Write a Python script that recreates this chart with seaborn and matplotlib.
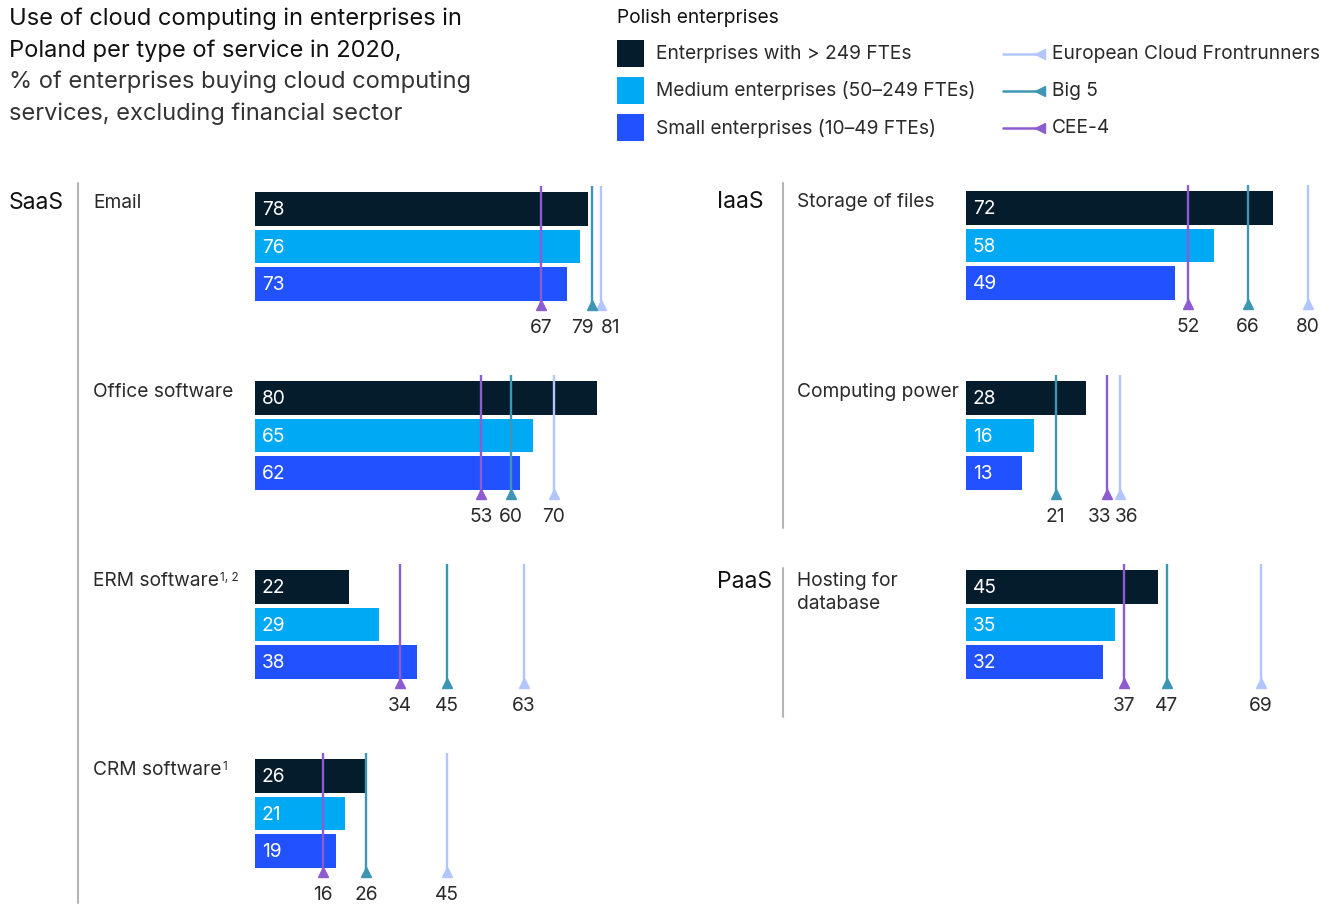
import matplotlib
matplotlib.use("Agg")
import matplotlib.pyplot as plt
import pandas as pd
import seaborn as sns
from matplotlib.patches import Rectangle
from matplotlib.lines import Line2D

# ---- data -------------------------------------------------------------
services = ["Email", "Office software", "ERM software", "CRM software",
            "Storage of files", "Computing power", "Hosting for\ndatabase"]
service_notes = ["", "", "1, 2", "1", "", "", ""]
service_types = ["SaaS", "SaaS", "SaaS", "SaaS", "IaaS", "IaaS", "PaaS"]

size_groups = ["Enterprises with > 249 FTEs",
               "Medium enterprises (50\u2013249 FTEs)",
               "Small enterprises (10\u201349 FTEs)"]
large = [78, 80, 22, 26, 72, 28, 45]
medium = [76, 65, 29, 21, 58, 16, 35]
small = [73, 62, 38, 19, 49, 13, 32]

benchmarks = ["European Cloud Frontrunners", "Big 5", "CEE-4"]
frontrunners = [81, 70, 63, 45, 80, 36, 69]
big5 = [79, 60, 45, 26, 66, 21, 47]
cee4 = [67, 53, 34, 16, 52, 33, 37]

title_lines = ["Use of cloud computing in enterprises in",
               "Poland per type of service in 2020,",
               "% of enterprises buying cloud computing",
               "services, excluding financial sector"]
legend_title = "Polish enterprises"

# ---- style ------------------------------------------------------------
bar_colors = ["#051C2C", "#00A9F4", "#2251FF"]
bench_colors = ["#B3C5FF", "#3C96B4", "#8C5CD0"]
TEXT = "#2A2A2A"
GRID = "#B5B5B5"
FONT = "Inter"
BODY = 13.8

sns.set_theme(style="white")
plt.rcParams["font.family"] = [FONT, "DejaVu Sans"]

W, H = 1340, 905
fig = plt.figure(figsize=(W / 100, H / 100), dpi=100)
bg = fig.add_axes([0, 0, 1, 1])
bg.set_xlim(0, W)
bg.set_ylim(H, 0)
bg.axis("off")


def px_axes(left, top, width, height):
    return fig.add_axes([left / W, 1 - (top + height) / H, width / W, height / H])


# ---- title & legend ---------------------------------------------------
for k, line in enumerate(title_lines):
    bg.text(9, 25 + 31.7 * k, line, fontsize=17,
            color="#111111" if k < 2 else "#333333", va="baseline")

bg.text(617, 23, legend_title, fontsize=13.8, color="#111111", va="baseline")
for k, (name, c) in enumerate(zip(size_groups, bar_colors)):
    yc = 54 + 37 * k
    bg.add_patch(Rectangle((617, yc - 13.5), 27, 27, color=c, lw=0))
    bg.text(656, yc, name, fontsize=BODY, color=TEXT, va="center")
for k, (name, c) in enumerate(zip(benchmarks, bench_colors)):
    yc = 54 + 37 * k
    bg.add_line(Line2D([1003, 1043], [yc, yc], color=c, lw=1.8))
    bg.plot([1040], [yc], marker="<", ms=7, color=c, mec=c)
    bg.text(1052, yc, name, fontsize=BODY, color=TEXT, va="center")

# ---- section labels and dividers -----------------------------------
bg.text(9, 209, "SaaS", fontsize=16.5, color="#111111", va="baseline")
bg.text(717, 208, "IaaS", fontsize=16.5, color="#111111", va="baseline")
bg.text(717, 588, "PaaS", fontsize=16.5, color="#111111", va="baseline")
bg.add_line(Line2D([78, 78], [183, 903], color=GRID, lw=1.5))
bg.add_line(Line2D([783, 783], [183, 528], color=GRID, lw=1.5))
bg.add_line(Line2D([783, 783], [568, 717], color=GRID, lw=1.5))

# ---- panels -----------------------------------------------------------
PX_PER_UNIT = 4.27
PITCH = 37.5
XMAX = 86
bar_tops = [192, 381, 570, 759, 191, 381, 570]
columns = [0, 0, 0, 0, 1, 1, 1]
bar_x0 = [255, 966]
label_x0 = [93, 797]
MIN_GAP = 6.4

for i, svc in enumerate(services):
    col = columns[i]
    top = bar_tops[i]
    x0 = bar_x0[col]
    ax = px_axes(x0, top - 34, XMAX * PX_PER_UNIT, 184)

    sub = pd.DataFrame({"size": size_groups,
                        "value": [large[i], medium[i], small[i]]})
    sns.barplot(data=sub, x="value", y="size", hue="size",
                order=size_groups, hue_order=size_groups,
                palette=bar_colors, width=0.9, saturation=1,
                errorbar=None, legend=False, linewidth=0, ax=ax, orient="h")
    for j, v in enumerate(sub["value"]):
        ax.text(1.6, j + 0.03, str(v), color="white", fontsize=BODY,
                va="center", ha="left")

    vals = [frontrunners[i], big5[i], cee4[i]]
    for v, c in zip(vals, bench_colors):
        ax.vlines(v, -0.613, 2.56, color=c, lw=1.7, zorder=4)
        ax.plot([v], [2.56], marker="^", ms=7, color=c, mec=c, zorder=5)

    # benchmark value labels, nudged apart when they would collide
    order = sorted(range(3), key=lambda k: vals[k])
    pos = [vals[k] for k in order]
    for j in range(1, 3):
        if pos[j] - pos[j - 1] < MIN_GAP:
            mid = (pos[j] + pos[j - 1]) / 2
            pos[j - 1] = mid - MIN_GAP / 2
            pos[j] = mid + MIN_GAP / 2
    for k, p in zip(order, pos):
        ax.text(p, 3.17, str(vals[k]), fontsize=BODY, color=TEXT,
                ha="center", va="center", clip_on=False)

    ax.set_xlim(0, XMAX)
    ax.set_ylim(133 / PITCH, -51 / PITCH)
    ax.set_axis_off()

    last = None
    for n, part in enumerate(svc.split("\n")):
        last = bg.text(label_x0[col], top + 16 + 23 * n, part, fontsize=BODY,
                       color=TEXT, va="baseline")
    if service_notes[i]:
        bg.annotate(service_notes[i], xy=(1, 1), xycoords=last,
                    xytext=(0.5, 0), textcoords="offset points",
                    fontsize=8.5, color=TEXT, ha="left", va="top")

fig.savefig("out.png", dpi=100)
